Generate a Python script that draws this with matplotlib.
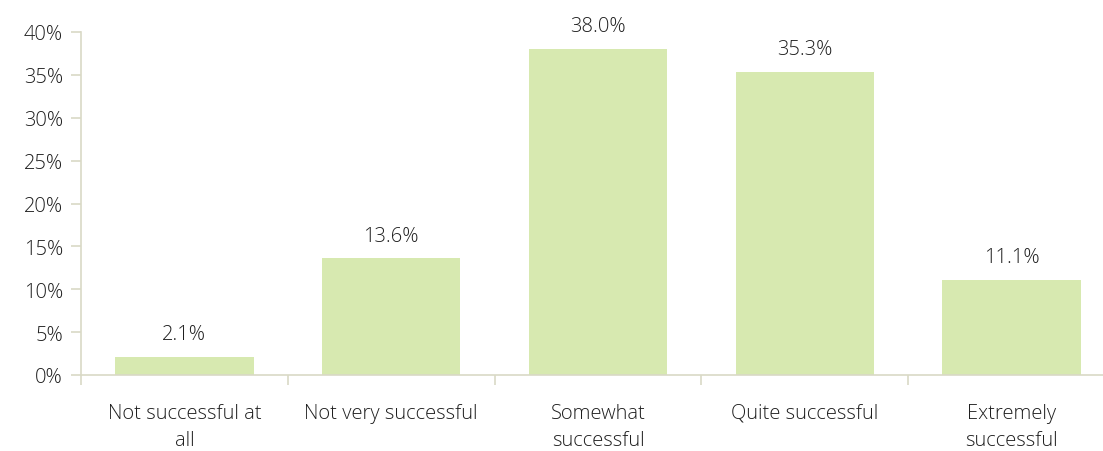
import numpy as np
import matplotlib.pyplot as plt
from matplotlib.ticker import PercentFormatter

categories = ['Not successful at\nall', 'Not very successful', 'Somewhat\nsuccessful',
              'Quite successful', 'Extremely\nsuccessful']
values = [2.1, 13.6, 38.0, 35.3, 11.1]

plt.rcParams['font.family'] = ['Open Sans', 'DejaVu Sans']
plt.rcParams['font.weight'] = 'light'
text_col = '#1F1F1F'
axis_col = '#D9D9C6'
fs = 14.5

fig = plt.figure(figsize=(11.03, 4.52), dpi=100)
W, H = 1103, 452
ax = fig.add_axes([81 / W, 1 - 376 / H, (1115 - 81) / W, (376 - 33) / H])

x = np.arange(len(values))
ax.bar(x, values, width=0.67, color='#D7E9B0', zorder=2)
for xi, v in zip(x, values):
    ax.text(xi, v + 1.5, f'{v:.1f}%', ha='center', va='bottom', fontsize=fs, color=text_col)

ax.set_xlim(-0.5, len(values) - 0.5)
ax.set_ylim(0, 40)
ax.set_yticks(np.arange(0, 41, 5))
ax.yaxis.set_major_formatter(PercentFormatter(decimals=0))
ax.set_xticks(x)
ax.set_xticklabels(categories, fontsize=fs, color=text_col, linespacing=1.5)
ax.set_xticks(np.arange(-0.5, len(values), 1), minor=True)
ax.tick_params(axis='x', which='major', length=0, pad=20)
ax.tick_params(axis='x', which='minor', length=7, color=axis_col, width=1.2)
ax.tick_params(axis='y', length=7, color=axis_col, width=1.2, labelsize=fs, labelcolor=text_col, pad=6)

for s in ['top', 'right']:
    ax.spines[s].set_visible(False)
for s in ['left', 'bottom']:
    ax.spines[s].set_color(axis_col)
    ax.spines[s].set_linewidth(1.2)

fig.savefig('out.png', dpi=100)
